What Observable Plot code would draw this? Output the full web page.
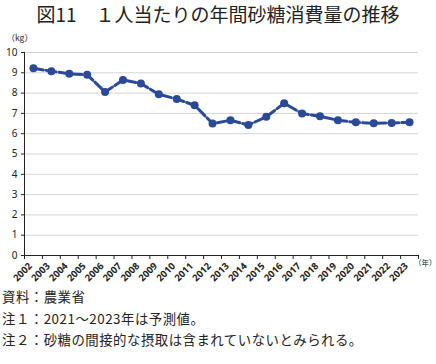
<!DOCTYPE html>
<html><head><meta charset="utf-8">
<script src="https://cdn.jsdelivr.net/npm/d3@7"></script>
<script src="https://cdn.jsdelivr.net/npm/@observablehq/plot@0.6"></script>
<style>
body{margin:0;background:#fff;font-family:"Noto Sans CJK JP","Noto Sans",sans-serif;color:#222;width:436px;}
#title{height:28px;line-height:28px;text-align:center;font-size:19px;font-weight:400;white-space:pre;}
#foot{padding-top:2px;font-size:13.4px;line-height:21.5px;padding-left:2px;letter-spacing:0.5px;}
svg{display:block;}
</style></head><body>
<div id="title">図11　１人当たりの年間砂糖消費量の推移</div>
<div id="chart"></div>
<div id="foot">
<div>資料：農業省</div>
<div>注１：2021～2023年は予測値。</div>
<div>注２：砂糖の間接的な摂取は含まれていないとみられる。</div>
</div>
<script>
const years = [2002,2003,2004,2005,2006,2007,2008,2009,2010,2011,2012,2013,2014,2015,2016,2017,2018,2019,2020,2021,2022,2023];
const values = [9.22,9.08,8.95,8.91,8.05,8.65,8.47,7.94,7.71,7.40,6.50,6.66,6.43,6.83,7.50,6.99,6.86,6.66,6.56,6.51,6.53,6.56];
const yTicks = [0,1,2,3,4,5,6,7,8,9,10];
const xDomain = [2001.5, 2023.5];
const bandEdges = d3.range(xDomain[0], xDomain[1] + 0.5, 1);
const data = years.map((y,i)=>({year:y, value:values[i]}));
const color = "#2a4a98";

const chart = Plot.plot({
  width: 436, height: 256,
  marginLeft: 24, marginRight: 18, marginTop: 24, marginBottom: 29,
  style: {fontFamily: "'Noto Sans', 'DejaVu Sans', sans-serif", fontSize: "10px", color: "#222"},
  x: {domain: xDomain},
  y: {domain: [0, 10]},
  marks: [
    Plot.gridY(yTicks.filter(d=>d>0), {stroke: "#d4d4d4", strokeOpacity: 1}),
    Plot.ruleY([0], {stroke: "#222"}),
    Plot.ruleX([xDomain[0]], {stroke: "#222"}),
    Plot.axisY(yTicks, {tickSize: 3, tickPadding: 4, label: null, stroke: "#222"}),
    Plot.axisX(bandEdges, {tickSize: 4, tickFormat: () => "", label: null, stroke: "#222"}),
    Plot.axisX(years, {tickSize: 0, tickRotate: -45, tickPadding: 9, dx: -3, tickFormat: d => String(d), label: null, fontWeight: "bold", fontSize: 9.5}),
    Plot.line(data, {x: "year", y: "value", stroke: color, strokeWidth: 3, strokeDasharray: "10,3"}),
    Plot.dot(data, {x: "year", y: "value", r: 4, fill: color, stroke: "none"}),
    Plot.text(["（kg）"], {frameAnchor: "top-left", lineAnchor: "middle", dx: -18, dy: -14, textAnchor: "start", fontSize: 8.5, fontFamily: "Noto Sans CJK JP"}),
    Plot.text(["（年）"], {frameAnchor: "bottom-right", lineAnchor: "middle", dx: 18, dy: 8, textAnchor: "end", fontSize: 7.5, fontFamily: "Noto Sans CJK JP"})
  ]
});
document.getElementById("chart").appendChild(chart);
</script>
</body></html>
